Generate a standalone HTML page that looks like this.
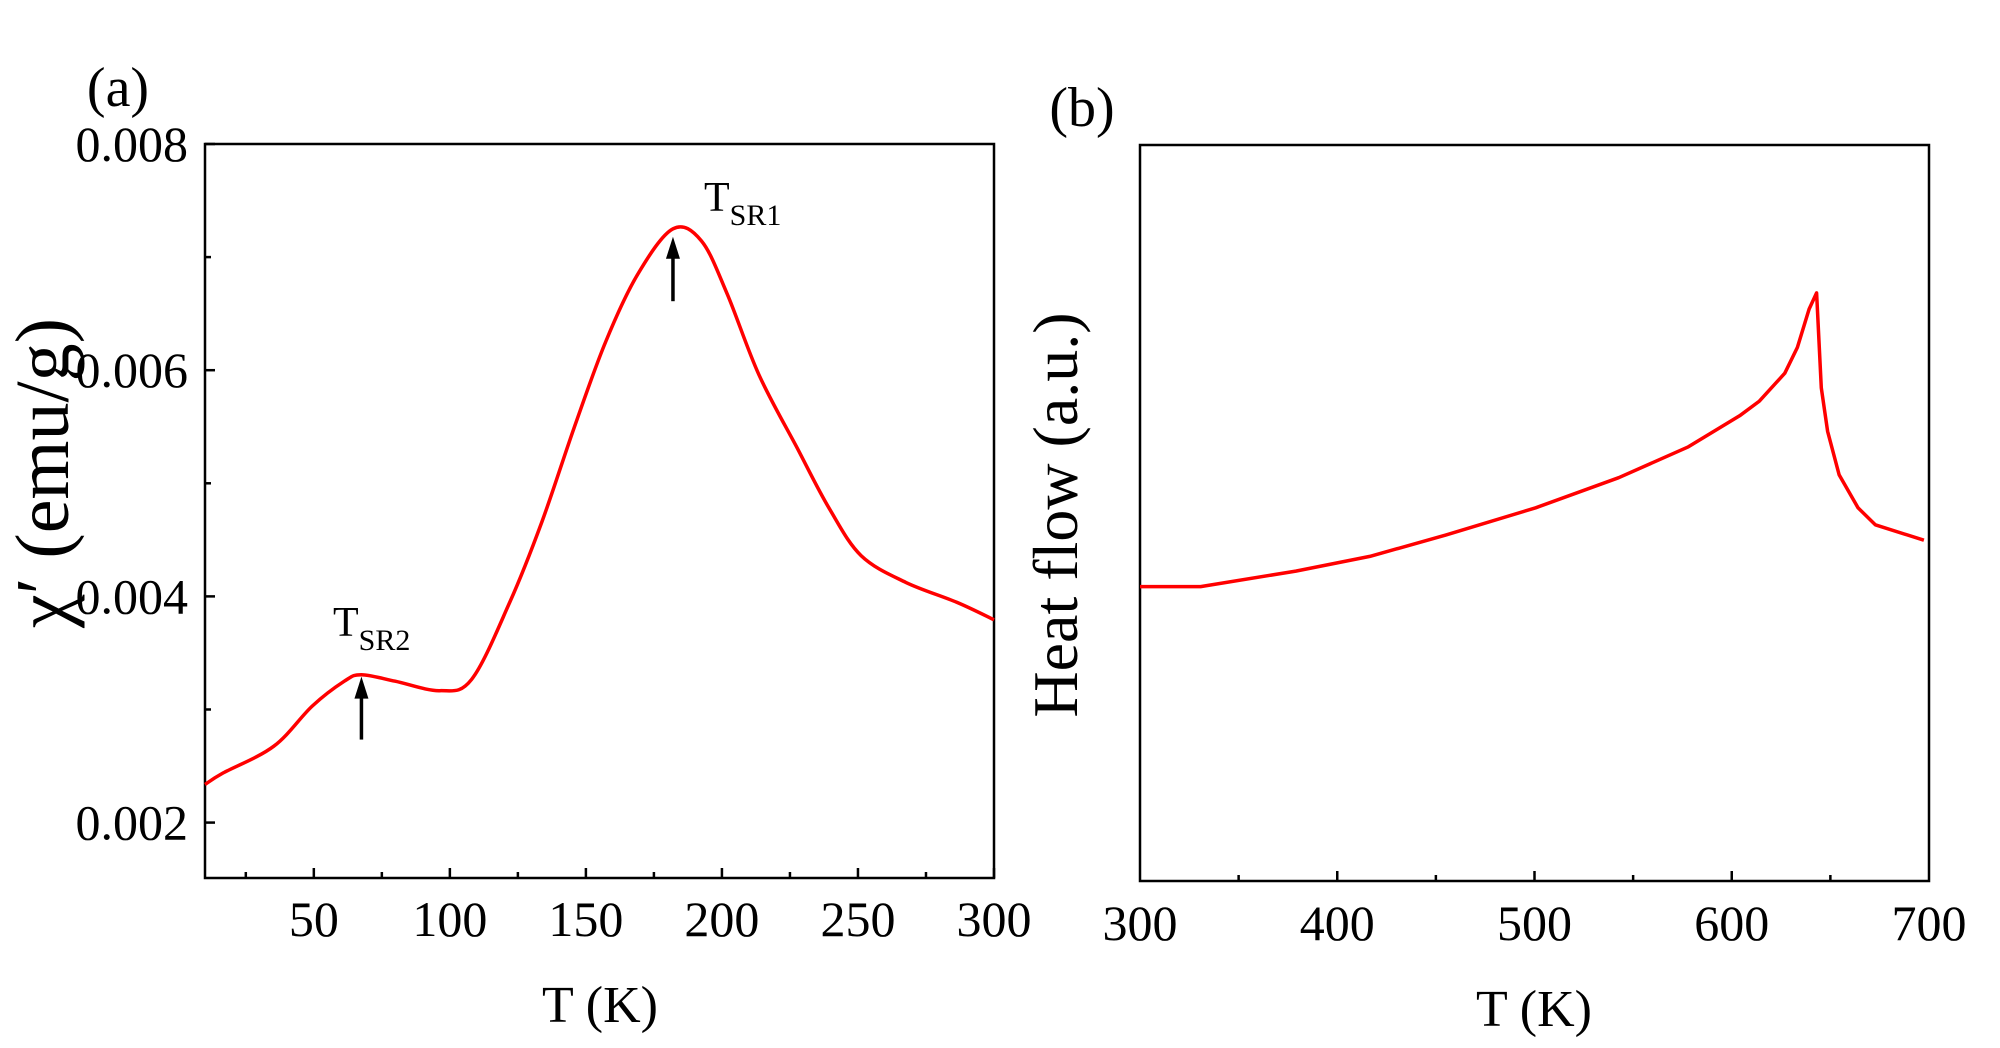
<!DOCTYPE html>
<html><head><meta charset="utf-8"><style>
html,body{margin:0;padding:0;background:#fff;}
svg{display:block;font-family:"Liberation Serif",serif;}
</style></head><body>
<svg id="fig" width="2000" height="1048" viewBox="0 0 2000 1048" xmlns="http://www.w3.org/2000/svg"></svg>
<script>
const tempsA=[10,16.6,35.3,49.4,61.2,67.5,79.9,96.3,108,122,133.8,145.6,157.3,169,182,192.5,202,213.6,227.7,239.5,251.2,267.6,286.4,300];
const chiA=[0.002337,0.002438,0.002675,0.00303,0.00325,0.003308,0.00325,0.003166,0.003266,0.003947,0.004657,0.005485,0.006254,0.006846,0.00725,0.007142,0.00667,0.00596,0.00531,0.004775,0.00436,0.004124,0.003947,0.003793];
const xTicksA=[50,100,150,200,250,300];
const yTicksA=[0.002,0.004,0.006,0.008];
const yTickLabelsA=["0.002","0.004","0.006","0.008"];
const tempsB=[300,330.7,379,416.5,455,500.6,542.7,578,604,614,626.9,633.3,639.2,643,645.4,648.6,654.4,664,672.8,697.4];
const heatB=[40.0,40.0,42.1,44.1,47.0,50.7,54.8,59.0,63.2,65.2,69.0,72.5,77.7,79.9,67.0,61.1,55.2,50.7,48.4,46.3];
const xTicksB=[300,400,500,600,700];

const NS="http://www.w3.org/2000/svg";
const svg=document.getElementById('fig');
function mk(tag,attrs,parent,text){const e=document.createElementNS(NS,tag);for(const k in attrs)e.setAttribute(k,attrs[k]);if(text!==undefined)e.textContent=text;(parent||svg).appendChild(e);return e;}
function smooth(pts){let d='M'+pts[0][0].toFixed(1)+' '+pts[0][1].toFixed(1);
 for(let i=0;i<pts.length-1;i++){const p0=pts[Math.max(0,i-1)],p1=pts[i],p2=pts[i+1],p3=pts[Math.min(pts.length-1,i+2)];
  const c1=[p1[0]+(p2[0]-p0[0])/6,p1[1]+(p2[1]-p0[1])/6],c2=[p2[0]-(p3[0]-p1[0])/6,p2[1]-(p3[1]-p1[1])/6];
  d+=`C${c1[0].toFixed(1)} ${c1[1].toFixed(1)} ${c2[0].toFixed(1)} ${c2[1].toFixed(1)} ${p2[0].toFixed(1)} ${p2[1].toFixed(1)}`;}
 return d;}

// Panel A
const A={l:205,r:994,t:144,b:878,x0:10,x1:300,y0:0.00151,y1:0.008};
const xa=v=>A.l+(v-A.x0)/(A.x1-A.x0)*(A.r-A.l);
const ya=v=>A.b-(v-A.y0)/(A.y1-A.y0)*(A.b-A.t);
const gA=mk('g',{});


let fr=mk('rect',{x:A.l,y:A.t,width:A.r-A.l,height:A.b-A.t,fill:'none',stroke:'#000','stroke-width':2.5},gA);


for(let v=25;v<=300;v+=25){const major=v%50===0;const x=xa(v);
 const tk=mk('line',{x1:x,x2:x,y1:A.b,y2:A.b-(major?10:6),stroke:'#000','stroke-width':2.5},gA);
 
 }
xTicksA.forEach(v=>{const t=mk('text',{x:xa(v),y:936,'font-size':50,'text-anchor':'middle'},gA,String(v));
 
 });
for(let v=0.002;v<=0.0081;v+=0.001){const major=Math.round(v*1000)%2===0;const y=ya(v);
 const tk=mk('line',{x1:A.l,x2:A.l+(major?10:6),y1:y,y2:y,stroke:'#000','stroke-width':2.5},gA);
 
 }
yTicksA.forEach((v,i)=>{const t=mk('text',{x:188,y:ya(v)+17,'font-size':50,'text-anchor':'end'},gA,yTickLabelsA[i]);
 
 });
let ln=mk('path',{d:smooth(tempsA.map((v,i)=>[xa(v),ya(chiA[i])])),fill:'none',stroke:'#f00','stroke-width':3.5,'stroke-linejoin':'round'},gA);


function arrow(T,v0,v1,name){const x=xa(T),y0=ya(v0),y1=ya(v1);
 const g=mk('g',{},gA);
 
 
 mk('line',{x1:x,x2:x,y1:y0,y2:y1+18,stroke:'#000','stroke-width':3.5},g);
 mk('polygon',{points:`${x-7},${y1+22} ${x+7},${y1+22} ${x},${y1}`,fill:'#000'},g);}
arrow(67.5,0.002734,0.00329,'arrow-tsr2');
arrow(182,0.00661,0.00718,'arrow-tsr1');
let l1=mk('text',{x:704,y:211,'font-size':42},gA);


l1.innerHTML='T<tspan font-size="30" dy="14">SR1</tspan>';
let l2=mk('text',{x:333,y:636,'font-size':42},gA);


l2.innerHTML='T<tspan font-size="30" dy="14">SR2</tspan>';
let xt=mk('text',{x:600,y:1022,'font-size':52,'text-anchor':'middle'},gA,'T (K)');


let yt=mk('text',{x:0,y:0,'font-size':76,'text-anchor':'middle',transform:'translate(68,473) rotate(-90)'},gA,'χ′ (emu/g)');


let pa=mk('text',{x:118,y:106,'font-size':56,'text-anchor':'middle'},gA,'(a)');



// Panel B
const B={l:1140,r:1929,t:145,b:881,x0:300,x1:700,y0:0,y1:100};
const xb=v=>B.l+(v-B.x0)/(B.x1-B.x0)*(B.r-B.l);
const yb=v=>B.b-(v-B.y0)/(B.y1-B.y0)*(B.b-B.t);
const gB=mk('g',{});


fr=mk('rect',{x:B.l,y:B.t,width:B.r-B.l,height:B.b-B.t,fill:'none',stroke:'#000','stroke-width':2.5},gB);


for(let v=350;v<700;v+=50){const major=v%100===0;const x=xb(v);
 const tk=mk('line',{x1:x,x2:x,y1:B.b,y2:B.b-(major?10:6),stroke:'#000','stroke-width':2.5},gB);
 
 }
xTicksB.forEach(v=>{const t=mk('text',{x:xb(v),y:940,'font-size':50,'text-anchor':'middle'},gB,String(v));
 
 });
let d='';tempsB.forEach((v,i)=>{d+=(i?'L':'M')+xb(v).toFixed(1)+' '+yb(heatB[i]).toFixed(1);});
ln=mk('path',{d:d,fill:'none',stroke:'#f00','stroke-width':3.5,'stroke-linejoin':'round'},gB);


xt=mk('text',{x:1534,y:1026,'font-size':52,'text-anchor':'middle'},gB,'T (K)');


yt=mk('text',{x:0,y:0,'font-size':64,'text-anchor':'middle',transform:'translate(1077,515) rotate(-90)'},gB,'Heat flow (a.u.)');


let pb=mk('text',{x:1082,y:126,'font-size':56,'text-anchor':'middle'},gB,'(b)');


</script>
</body></html>
